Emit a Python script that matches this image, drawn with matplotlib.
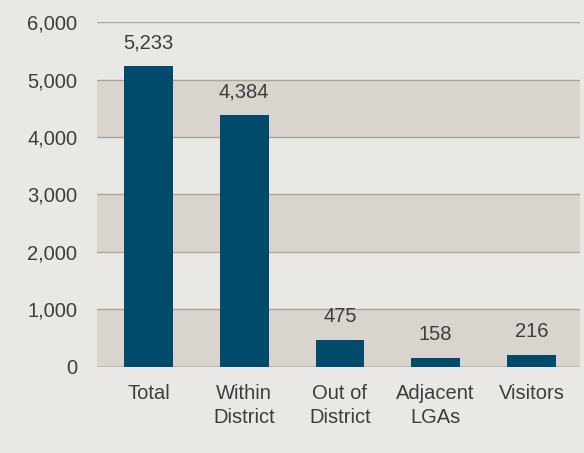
import matplotlib.pyplot as plt
from matplotlib.ticker import MultipleLocator, FuncFormatter
import numpy as np

# data
categories = ['Total', 'Within\nDistrict', 'Out of\nDistrict', 'Adjacent\nLGAs', 'Visitors']
values = [5233, 4384, 475, 158, 216]
yticks = [0, 1000, 2000, 3000, 4000, 5000, 6000]

bg = '#eae8e4'
band = '#d9d4ce'
barcol = '#004b6b'
textcol = '#3d3d3d'

plt.rcParams['font.family'] = ['Liberation Sans', 'DejaVu Sans']

fig = plt.figure(figsize=(5.84, 4.53), dpi=100, facecolor=bg)
ax0 = fig.add_axes([0.166, 0.19, 0.827, 0.7614])
ax0.set_facecolor(bg)

# alternating bands, darker from 0-1000, 2000-3000, 4000-5000
for lo in yticks[:-1:2]:
    ax0.axhspan(lo, lo + 1000, color=band, zorder=0, lw=0)
for t in yticks[1:]:
    ax0.axhline(t, color='#aea398', lw=1.0, zorder=1)
ax0.axhline(0, color='#c2b9b0', lw=2.0, zorder=1)

x = np.arange(len(categories))
ax0.bar(x, values, width=0.51, color=barcol, zorder=2)

for xi, v in zip(x, values):
    ax0.text(xi, v + 240, f'{v:,}', ha='center', va='bottom', fontsize=14.5, color=textcol)

ax0.set_xlim(-0.538, 4.507)
ax0.set_ylim(0, 6000)
ax0.set_xticks(x)
ax0.set_xticklabels(categories, fontsize=14.5, color=textcol, linespacing=1.35)
ax0.yaxis.set_major_locator(MultipleLocator(1000))
ax0.yaxis.set_major_formatter(FuncFormatter(lambda v, p: f'{int(v):,}'))
ax0.tick_params(axis='y', length=0, pad=14, labelsize=14.5, labelcolor=textcol)
ax0.tick_params(axis='x', length=0, pad=12)
for s in ax0.spines.values():
    s.set_visible(False)

plt.savefig('out.png', dpi=100, facecolor=bg)
